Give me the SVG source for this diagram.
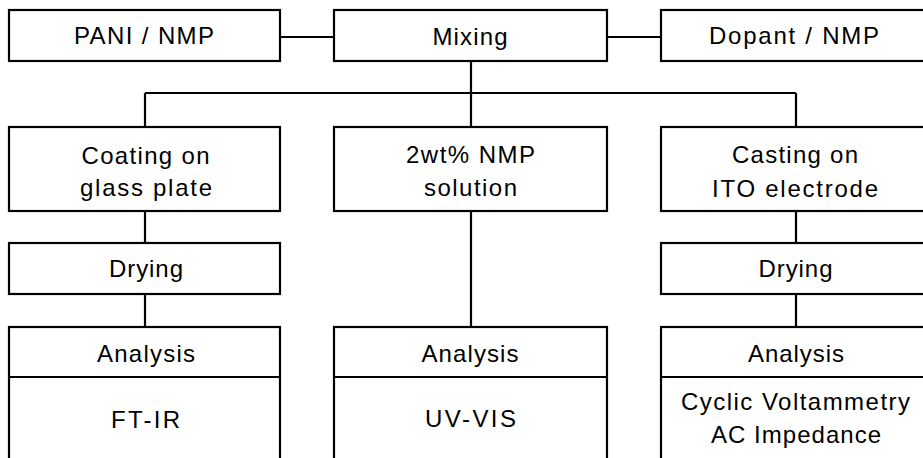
<svg xmlns="http://www.w3.org/2000/svg" width="923" height="458" viewBox="0 0 923 458">
<style>
.box{fill:#fff;stroke:#000;stroke-width:2.2}
.ln{fill:none;stroke:#000;stroke-width:2.2}
text{font-family:"Liberation Sans",Arial,sans-serif;font-size:24px;fill:#000;text-anchor:middle}
</style>
<rect width="923" height="458" fill="#fff"/>
<g id="connectors">
<path class="ln" d="M280,37H334M607,37H661M471,61V127M145,93H796M145,93V127M796,93V127M145,211V243M796,211V243M145,294V327M796,294V327M471,211V327"/>
</g>
<g id="pani"><rect class="box" x="9" y="10" width="271" height="51"/><text x="144" y="44" textLength="140" lengthAdjust="spacing">PANI / NMP</text></g>
<g id="mixing"><rect class="box" x="334" y="10" width="273" height="51"/><text x="470" y="45" textLength="75" lengthAdjust="spacing">Mixing</text></g>
<g id="dopant"><rect class="box" x="661" y="10" width="271" height="51"/><text x="794" y="44" textLength="170" lengthAdjust="spacing">Dopant / NMP</text></g>
<g id="coating"><rect class="box" x="9" y="127" width="271" height="84"/><text x="145.5" y="164" textLength="128" lengthAdjust="spacing">Coating on</text><text x="146" y="196" textLength="132" lengthAdjust="spacing">glass plate</text></g>
<g id="solution"><rect class="box" x="334" y="127" width="273" height="84"/><text x="470.5" y="163" textLength="129" lengthAdjust="spacing">2wt% NMP</text><text x="470.5" y="196" textLength="93" lengthAdjust="spacing">solution</text></g>
<g id="casting"><rect class="box" x="661" y="127" width="271" height="84"/><text x="795" y="163" textLength="126" lengthAdjust="spacing">Casting on</text><text x="795" y="197" textLength="166" lengthAdjust="spacing">ITO electrode</text></g>
<g id="drying-left"><rect class="box" x="9" y="243" width="271" height="51"/><text x="146" y="277" textLength="74" lengthAdjust="spacing">Drying</text></g>
<g id="drying-right"><rect class="box" x="661" y="243" width="271" height="51"/><text x="795.5" y="277" textLength="74" lengthAdjust="spacing">Drying</text></g>
<g id="analysis-left"><rect class="box" x="9" y="327" width="271" height="150"/><path class="ln" d="M9,377H280"/><text x="146" y="362" textLength="98" lengthAdjust="spacing">Analysis</text><text x="145.5" y="428" textLength="69" lengthAdjust="spacing">FT-IR</text></g>
<g id="analysis-mid"><rect class="box" x="334" y="327" width="273" height="150"/><path class="ln" d="M334,377H607"/><text x="470" y="362" textLength="97" lengthAdjust="spacing">Analysis</text><text x="470.5" y="427" textLength="91" lengthAdjust="spacing">UV-VIS</text></g>
<g id="analysis-right"><rect class="box" x="661" y="327" width="271" height="150"/><path class="ln" d="M661,377H932"/><text x="796" y="362" textLength="96" lengthAdjust="spacing">Analysis</text><text x="795.5" y="410" textLength="229" lengthAdjust="spacing">Cyclic Voltammetry</text><text x="796" y="443" textLength="170" lengthAdjust="spacing">AC Impedance</text></g>
</svg>
